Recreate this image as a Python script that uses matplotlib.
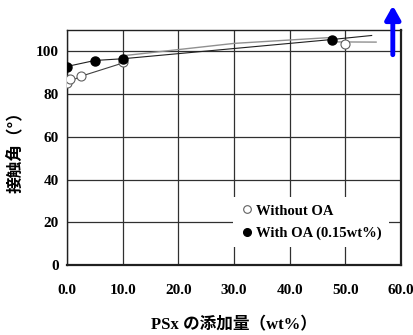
import matplotlib
matplotlib.use("Agg")
import matplotlib.pyplot as plt
from matplotlib.lines import Line2D

# data
psx_without = [0.0, 0.5, 2.5, 10.0, 50.0]
angle_without = [85.4, 87.3, 88.4, 95.0, 103.3]

psx_with = [0.0, 5.0, 10.0, 47.5]
angle_with = [92.8, 95.6, 96.4, 105.6]

# connecting / trend segments as drawn in the original
line_with_x = [0.0, 5.0, 10.0, 47.5, 54.7]
line_with_y = [93.0, 95.8, 96.6, 105.6, 107.5]
line_without_x = [0.0, 2.5, 10.0]
line_without_y = [85.4, 88.4, 94.6]
trend1_x = [10.0, 30.0, 47.0]
trend1_y = [98.0, 103.8, 106.5]
trend2_x = [47.5, 55.5]
trend2_y = [104.5, 104.4]

x_ticks = [0, 10, 20, 30, 40, 50, 60]
y_ticks = [0, 20, 40, 60, 80, 100]

serif = ['Liberation Serif', 'Noto Sans CJK JP']

fig = plt.figure(figsize=(4.14, 3.35), dpi=100)
ax = fig.add_axes([0.162, 0.209, 0.807, 0.701])

ax.plot(trend1_x, trend1_y, color='#909090', lw=1.0, zorder=2)
ax.plot(trend2_x, trend2_y, color='#909090', lw=1.0, zorder=2)
ax.plot(line_without_x, line_without_y, color='#404040', lw=0.8, zorder=2)
ax.plot(line_with_x, line_with_y, color='#202020', lw=0.8, zorder=2)

ax.plot(psx_without, angle_without, 'o', ms=6.5, mfc='white', mec='#606060',
        mew=0.8, zorder=3)
ax.plot(psx_with, angle_with, 'o', ms=6.5, mfc='black', mec='black', zorder=4)

ax.set_xlim(0, 60)
ax.set_ylim(0, 110)
ax.set_xticks(x_ticks)
ax.set_yticks(y_ticks)
ax.set_xticklabels([f'{v:.1f}' for v in x_ticks])
ax.set_yticklabels([str(v) for v in y_ticks])
ax.grid(True, color='#303030', lw=0.9)
ax.set_axisbelow(True)
ax.tick_params(length=0, pad=6)
ax.tick_params(axis='x', pad=14)
for lab in ax.get_xticklabels() + ax.get_yticklabels():
    lab.set_fontfamily(serif)
    lab.set_fontweight('bold')
    lab.set_fontsize(11)
for side in ['left', 'bottom', 'top', 'right']:
    ax.spines[side].set_color('#202020')
    ax.spines[side].set_linewidth(1.0)
ax.spines['right'].set_linewidth(1.6)
ax.spines['bottom'].set_linewidth(1.6)

handles = [
    Line2D([], [], ls='none', marker='o', ms=5.5, mfc='white', mec='#606060', mew=0.8),
    Line2D([], [], ls='none', marker='o', ms=5.5, mfc='black', mec='black'),
]
leg = ax.legend(handles, ['Without OA', 'With OA (0.15wt%)'],
                loc='lower right', bbox_to_anchor=(0.985, 0.045),
                frameon=True, framealpha=1, edgecolor='none', fancybox=False,
                handletextpad=0.1, handlelength=1.0, borderpad=0.5,
                labelspacing=0.6, prop={'family': serif, 'weight': 'bold', 'size': 10.5})

ax.set_xlabel('PSx の添加量（wt%）', fontfamily=serif, fontweight='bold',
              fontsize=12, labelpad=14)
ax.set_ylabel('接触角（°）', fontfamily=['Noto Sans CJK JP', 'DejaVu Sans'],
              fontweight='bold', fontsize=12, labelpad=8)

ax.annotate('', xy=(58.5, 121.5), xytext=(58.5, 98.5), xycoords='data',
            annotation_clip=False,
            arrowprops=dict(arrowstyle='-|>,head_width=0.45,head_length=0.8',
                            color='#0000ff', lw=3.5, shrinkA=0, shrinkB=0))

fig.savefig('out.png', dpi=100)
